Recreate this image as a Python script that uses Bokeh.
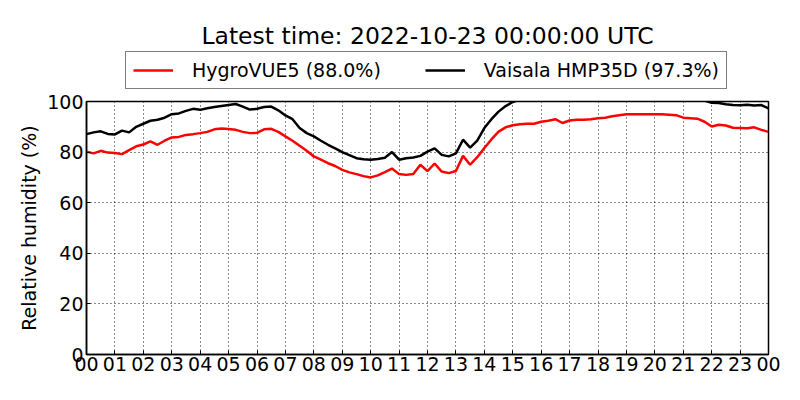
from bokeh.plotting import figure
from bokeh.layouts import column
from bokeh.models import (Range1d, FixedTicker, Legend, LegendItem, Label)
from bokeh.embed import file_html
from bokeh.resources import INLINE

title_text = "Latest time: 2022-10-23 00:00:00 UTC"
y_label = "Relative humidity (%)"
x_ticks = list(range(0, 25))
x_tick_labels = ["%02d" % (h % 24) for h in x_ticks]
y_ticks = [0, 20, 40, 60, 80, 100]

hours = [i * 0.25 for i in range(97)]

hygrovue5 = [
    80.2, 79.5, 80.5, 79.8, 79.6, 79.2, 80.8, 82.3,
    83.0, 84.2, 82.9, 84.5, 85.8, 86.0, 86.8, 87.1,
    87.5, 88.0, 89.0, 89.3, 89.1, 88.8, 88.0, 87.5,
    87.6, 89.0, 89.2, 88.0, 86.2, 84.5, 82.5, 80.5,
    78.3, 77.0, 75.6, 74.5, 73.0, 72.0, 71.3, 70.5,
    70.0, 70.8, 72.1, 73.5, 71.3, 71.0, 71.3, 75.0,
    72.5, 75.5, 72.3, 71.7, 72.5, 78.5, 75.0, 78.0,
    81.6, 85.0, 88.1, 89.8, 90.6, 91.0, 91.2, 91.2,
    92.0, 92.4, 93.0, 91.5, 92.5, 92.8, 92.8, 93.0,
    93.4, 93.6, 94.2, 94.6, 95.0, 95.0, 95.0, 95.0,
    95.0, 95.0, 94.8, 94.6, 93.6, 93.4, 93.2, 92.0,
    90.1, 90.8, 90.5, 89.6, 89.5, 89.4, 89.8, 88.8,
    88.0,
]

hmp35d = [
    87.1, 87.8, 88.2, 87.2, 87.0, 88.5, 87.8, 90.0,
    91.2, 92.4, 92.8, 93.6, 95.0, 95.3, 96.3, 97.1,
    96.7, 97.3, 97.8, 98.2, 98.6, 99.0, 98.0, 96.8,
    97.1, 97.8, 98.0, 96.5, 94.5, 93.0, 89.5, 87.5,
    86.2, 84.5, 82.9, 81.5, 80.0, 78.8, 77.6, 77.2,
    77.0, 77.3, 77.8, 80.0, 77.0, 77.6, 77.9, 78.5,
    80.2, 81.5, 78.9, 78.3, 79.5, 84.9, 81.8, 84.5,
    89.5, 93.0, 96.0, 98.2, 99.8, 100.8, 101.5, 102.0,
    102.3, 102.5, 102.6, 102.8, 103.0, 103.0, 103.1, 103.2,
    103.2, 103.3, 103.4, 103.4, 103.5, 103.5, 103.5, 103.4,
    103.3, 103.0, 102.6, 102.2, 101.8, 101.3, 100.8, 100.4,
    99.5, 99.4, 98.9, 98.6, 98.5, 98.7, 98.4, 98.6,
    97.3,
]

labels = ["HygroVUE5 (88.0%)", "Vaisala HMP35D (97.3%)"]
colors = ["red", "black"]

FONT = "DejaVu Sans"
LW = 2.5

# ---- header figure: title + legend (its frame is aligned with the main frame) ----
top = figure(width=784, height=90, output_backend="svg", toolbar_location=None,
             x_range=Range1d(0, 24), y_range=Range1d(0, 1),
             x_axis_location=None, y_axis_location=None,
             title_location=None,
             min_border_left=86, min_border_right=16,
             min_border_top=0, min_border_bottom=0)
top.grid.visible = False
top.outline_line_color = None
top.background_fill_color = "white"
top.border_fill_color = "white"

# same series, out of this header's view: only their legend glyphs show
k1 = top.line(hours, hygrovue5, line_color=colors[0], line_width=LW)
k2 = top.line(hours, hmp35d, line_color=colors[1], line_width=LW)

top.add_layout(Label(x=341, y=55, x_units="screen", y_units="screen",
                     text=title_text, text_align="center", text_baseline="middle",
                     text_font=FONT, text_font_size="23.5px", text_color="black"))

legend = Legend(items=[LegendItem(label=labels[0], renderers=[k1]),
                       LegendItem(label=labels[1], renderers=[k2])],
                orientation="horizontal", location=(39, 1),
                label_text_font=FONT, label_text_font_size="19px",
                label_text_color="black",
                border_line_color="black", border_line_width=1.2,
                background_fill_color="white", background_fill_alpha=1,
                glyph_width=40, label_standoff=19, spacing=44,
                padding=7, margin=0)
top.add_layout(legend, "center")

# ---- main figure ----
p = figure(width=784, height=294, output_backend="svg", toolbar_location=None,
           x_range=Range1d(0, 24), y_range=Range1d(0, 100),
           title_location=None,
           min_border_left=86, min_border_right=16, min_border_top=11,
           min_border_bottom=30)

p.line(hours, hygrovue5, line_color=colors[0], line_width=LW)
p.line(hours, hmp35d, line_color=colors[1], line_width=LW)

p.xaxis.ticker = FixedTicker(ticks=x_ticks)
p.xaxis.major_label_overrides = {t: l for t, l in zip(x_ticks, x_tick_labels)}
p.yaxis.ticker = FixedTicker(ticks=y_ticks)
p.yaxis.axis_label = y_label

for ax in [p.xaxis[0], p.yaxis[0]]:
    ax.major_label_text_font = FONT
    ax.major_label_text_font_size = "19px"
    ax.major_label_text_color = "black"
    ax.axis_label_text_font = FONT
    ax.axis_label_text_font_size = "19px"
    ax.axis_label_text_font_style = "normal"
    ax.axis_label_text_color = "black"
    ax.major_tick_in = 4
    ax.major_tick_out = 0
    ax.minor_tick_line_color = None
    ax.axis_line_color = "black"
    ax.axis_line_width = 1.5
    ax.major_tick_line_color = "black"
    ax.major_label_standoff = 3
p.xaxis.major_label_standoff = 2
p.yaxis.axis_label_standoff = 4

p.xgrid.ticker = FixedTicker(ticks=x_ticks)
p.ygrid.ticker = FixedTicker(ticks=y_ticks)
for g in [p.xgrid[0], p.ygrid[0]]:
    g.grid_line_color = "black"
    g.grid_line_dash = "1 3"
    g.grid_line_width = 1
    g.grid_line_alpha = 0.9

p.outline_line_color = "black"
p.outline_line_width = 1.5
p.outline_line_alpha = 1
p.background_fill_color = "white"
p.border_fill_color = "white"

layout = column(top, p, spacing=0)
open("out.html", "w").write(file_html(layout, INLINE))
